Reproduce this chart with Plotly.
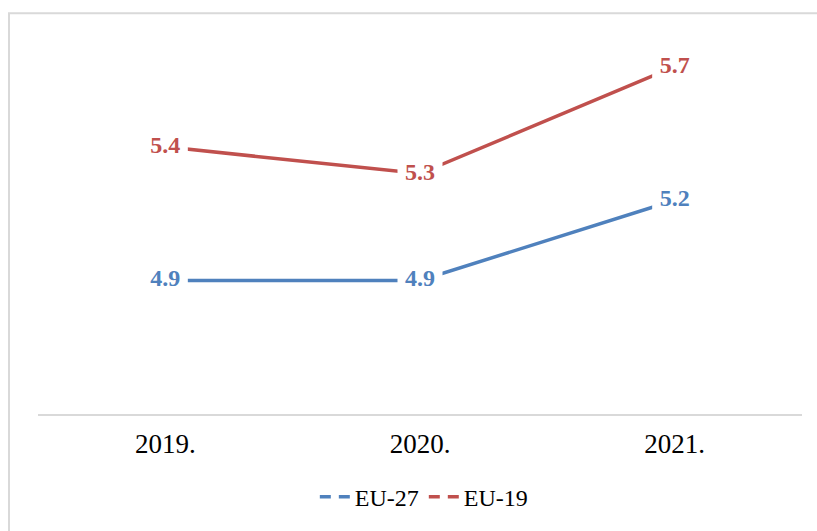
import plotly.graph_objects as go

years = ["2019.", "2020.", "2021."]
eu27 = [4.9, 4.9, 5.2]
eu19 = [5.4, 5.3, 5.7]
series_names = ["EU-27", "EU-19"]
colors = ["#4F81BD", "#C0504D"]

W, H = 817, 531
ML, MR, MT, MB = 38, 15, 40, 112
pw = W - ML - MR
ph = H - MT - MB

fig = go.Figure()
for name, vals, col in zip(series_names, [eu27, eu19], colors):
    fig.add_trace(go.Scatter(
        x=years, y=vals, mode="lines+markers+text", name=name,
        line=dict(color=col, width=3.5),
        marker=dict(symbol="square", size=45, color="#FFFFFF",
                    line=dict(width=0)),
        texttemplate="<b>%{y:.1f}</b>", textposition="middle center",
        textfont=dict(family="Liberation Serif", size=24, color=col),
        showlegend=False, hoverinfo="skip"))
for name, col in zip(series_names, colors):
    fig.add_trace(go.Scatter(x=[years[0]], y=[None], mode="lines", name=name,
                             line=dict(color=col, width=3.5, dash="11px,8px")))

# outer chart border (light gray), right/bottom edges cropped off canvas
fig.add_shape(type="rect", xref="paper", yref="paper",
              x0=(9 - ML) / pw, x1=1.6,
              y0=-1.0, y1=(H - MB - 13) / ph,
              line=dict(color="#D9D9D9", width=2), fillcolor="rgba(0,0,0,0)",
              layer="above")

fig.update_layout(
    width=W, height=H,
    margin=dict(l=ML, r=MR, t=MT, b=MB),
    paper_bgcolor="white", plot_bgcolor="white",
    showlegend=True,
    legend=dict(orientation="h", x=0.505, xanchor="center", y=-0.222,
                yanchor="middle",
                font=dict(family="Liberation Serif", size=24, color="#000000"),
                itemwidth=30, bgcolor="rgba(0,0,0,0)"),
    xaxis=dict(type="category", showgrid=False, zeroline=False,
               showline=True, linecolor="#D9D9D9", linewidth=2,
               ticks="", tickfont=dict(family="Liberation Serif", size=27, color="#000000"),
               ticklabelstandoff=5, range=[-0.5, 2.5]),
    yaxis=dict(range=[4.4, 5.8], visible=False, showgrid=False, zeroline=False),
)

fig.write_html("out.html",
               config={"displayModeBar": False},
               post_script="document.body.style.margin='0';"
                           "document.body.style.overflow='hidden';")
